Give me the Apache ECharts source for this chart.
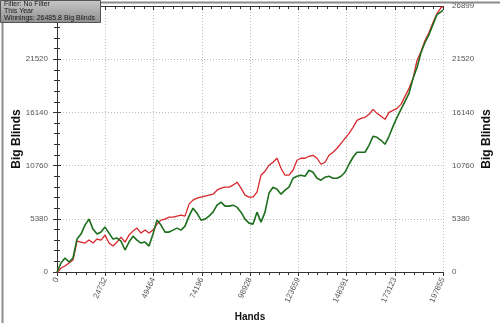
<!DOCTYPE html>
<html>
<head>
<meta charset="utf-8">
<script src="https://cdn.jsdelivr.net/npm/echarts@6/dist/echarts.min.js"></script>
<style>
html,body{margin:0;padding:0;background:#fff;}
#c{width:500px;height:323px;}
</style>
</head>
<body>
<div id="c"></div>
<script>
// ---- data ----
var hands = [0,2050,4101,6151,8202,10252,12302,14353,16403,18454,20504,22554,24605,26655,28706,30756,32806,34857,36907,38958,41008,43058,45109,47159,49210,51260,53310,55361,57411,59462,61512,63562,65613,67663,69714,71764,73814,75865,77915,79966,82016,84066,86117,88167,90218,92268,94318,96369,98419,100470,102520,104570,106621,108671,110722,112772,114822,116873,118923,120974,123024,125074,127125,129175,131226,133276,135326,137377,139427,141478,143528,145578,147629,149679,151730,153780,155830,157881,159931,161982,164032,166082,168133,170183,172234,174284,176334,178385,180435,182486,184536,186586,188637,190687,192738,194788,196838,197855];
var winnings = [0,908,1413,1009,1413,3330,3834,4742,5348,4339,3834,4036,4541,3935,3330,3431,3128,2220,3027,3632,3229,2926,3027,2623,3834,5247,4742,4036,4036,4238,4440,4238,4641,5650,6458,5953,5247,5348,5650,6054,6760,7063,6659,6659,6760,6558,6054,5348,4944,4843,6054,5045,6054,7971,8577,8375,7870,8274,8577,9485,9686,9787,9686,10292,10090,9485,9283,9586,9686,9485,9485,9686,10090,10897,11604,12108,12108,12108,12814,13722,13622,13319,12915,13722,14731,15640,16447,17254,18061,19575,20685,22198,23207,24014,25023,26032,26300,26485.8];
var allinEV = [-100,404,605,908,1211,3128,3027,2926,3229,2926,3330,3229,3733,2926,2623,3027,3532,3027,3733,4137,4440,3935,4238,3935,4238,4843,5247,5348,5550,5550,5650,5751,5650,6861,7265,7467,7568,7668,7769,7870,8274,8476,8577,8577,8778,9081,8476,7769,7568,7568,8072,9787,10191,10796,11099,11503,10494,9787,9787,10292,11301,11503,11503,11704,11805,11503,10897,11099,11805,12108,12512,13016,13521,14025,14631,15337,15539,15640,15942,16447,16043,15740,15438,16144,16346,16548,16951,17758,18566,19575,21391,22299,23409,24216,25225,26133,26739,26840];
var xTickLabels = ['0','24732','49464','74196','98928','123659','148391','173123','197855'];
var yTickLabels = ['0','5380','10760','16140','21520','26899'];
var infoLines = ['Filter: No Filter','This Year','Winnings: 26485.8 Big Blinds'];

var xMax = 197855, yMax = 26899;
var xStep = xMax / 8, yStep = 5380;

function pairs(xs, ys){ return xs.map(function(x,i){ return [x, ys[i]]; }); }
function xLab(v){ var i = Math.round(v / xStep); return xTickLabels[i] !== undefined ? xTickLabels[i] : ''; }
function yLab(v){ var i = Math.round(v / yStep); return yTickLabels[i] !== undefined ? yTickLabels[i] : ''; }

var font = 'Liberation Sans, Arial, sans-serif';
var axisCol = '#333';
var chart = echarts.init(document.getElementById('c'), null, {renderer:'canvas'});

var baseY = {
  type:'value', min:0, max:yMax, interval:yStep,
  axisLine:{show:true, lineStyle:{color:axisCol, width:1}},
  axisTick:{show:true, length:4, lineStyle:{color:axisCol}},
  minorTick:{show:true, splitNumber:5, length:3, lineStyle:{color:axisCol}},
  axisLabel:{formatter:yLab, fontSize:8, color:'#555', fontFamily:font, margin:9},
  name:'Big Blinds', nameLocation:'middle', nameRotate:90, nameMoveOverlap:false,
  nameTextStyle:{fontSize:12, fontWeight:'bold', color:'#111', fontFamily:font}
};

var option = {
  animation:false,
  backgroundColor:'#fff',
  grid:{left:57, right:57, top:6, bottom:51, containLabel:false, outerBoundsMode:'none'},
  xAxis:[{
    type:'value', min:0, max:xMax, interval:xStep, position:'bottom',
    axisLine:{show:true, onZero:false, lineStyle:{color:axisCol}},
    axisTick:{show:true, length:4, lineStyle:{color:axisCol}},
    minorTick:{show:true, splitNumber:5, length:3, lineStyle:{color:axisCol}},
    axisLabel:{formatter:xLab, rotate:65, fontSize:8, color:'#555', fontFamily:font, margin:6},
    splitLine:{show:true, lineStyle:{color:'#bdbdbd', type:[1,2], width:1}},
    name:'Hands', nameLocation:'middle', nameGap:40,
    nameTextStyle:{fontSize:10, fontWeight:'bold', color:'#111', fontFamily:font}
  },{
    type:'value', min:0, max:xMax, interval:xStep, position:'top',
    axisLine:{show:true, onZero:false, lineStyle:{color:axisCol}},
    axisTick:{show:true, inside:true, length:4, lineStyle:{color:axisCol}},
    minorTick:{show:true, splitNumber:5, length:3, lineStyle:{color:axisCol}},
    axisLabel:{show:false}, splitLine:{show:false}
  }],
  yAxis:[
    Object.assign({}, baseY, {position:'left', nameGap:34,
      splitLine:{show:true, lineStyle:{color:'#bdbdbd', type:[1,2], width:1}}}),
    Object.assign({}, baseY, {position:'right', nameGap:38, splitLine:{show:false}}),
    {type:'value', min:0, max:yMax, interval:yStep, position:'left',
     axisLine:{show:false}, axisLabel:{show:false}, splitLine:{show:false},
     axisTick:{show:true, inside:true, length:3, lineStyle:{color:axisCol}},
     minorTick:{show:true, splitNumber:5, length:2, lineStyle:{color:axisCol}}}
  ],
  series:[{
    name:'All-in EV', type:'line', showSymbol:false, symbol:'none',
    data:pairs(hands, allinEV),
    lineStyle:{color:'#d8262b', width:1.3}, z:2
  },{
    name:'Winnings', type:'line', showSymbol:false, symbol:'none',
    data:pairs(hands, winnings),
    lineStyle:{color:'#1d6e1d', width:1.6}, z:3
  }],
  graphic:[
    {type:'rect', left:0, top:0, shape:{width:499, height:322}, z:100,
     style:{fill:'none', stroke:'#8c8c8c', lineWidth:2}},
    {type:'rect', left:0, top:0, shape:{width:100, height:22}, z:101,
     style:{fill:new echarts.graphic.LinearGradient(0,0,0,1,[{offset:0,color:'#c8c8c8'},{offset:1,color:'#8e8e8e'}]),
            stroke:'#555', lineWidth:1}},
    {type:'text', left:4, top:0.5, z:102, style:{text:infoLines[0], fontSize:7, fill:'#1a1a1a', fontFamily:font}},
    {type:'text', left:4, top:7.5, z:102, style:{text:infoLines[1], fontSize:7, fill:'#1a1a1a', fontFamily:font}},
    {type:'text', left:4, top:14.5, z:102, style:{text:infoLines[2], fontSize:7, fill:'#1a1a1a', fontFamily:font}}
  ]
};
chart.setOption(option);
</script>
</body>
</html>
